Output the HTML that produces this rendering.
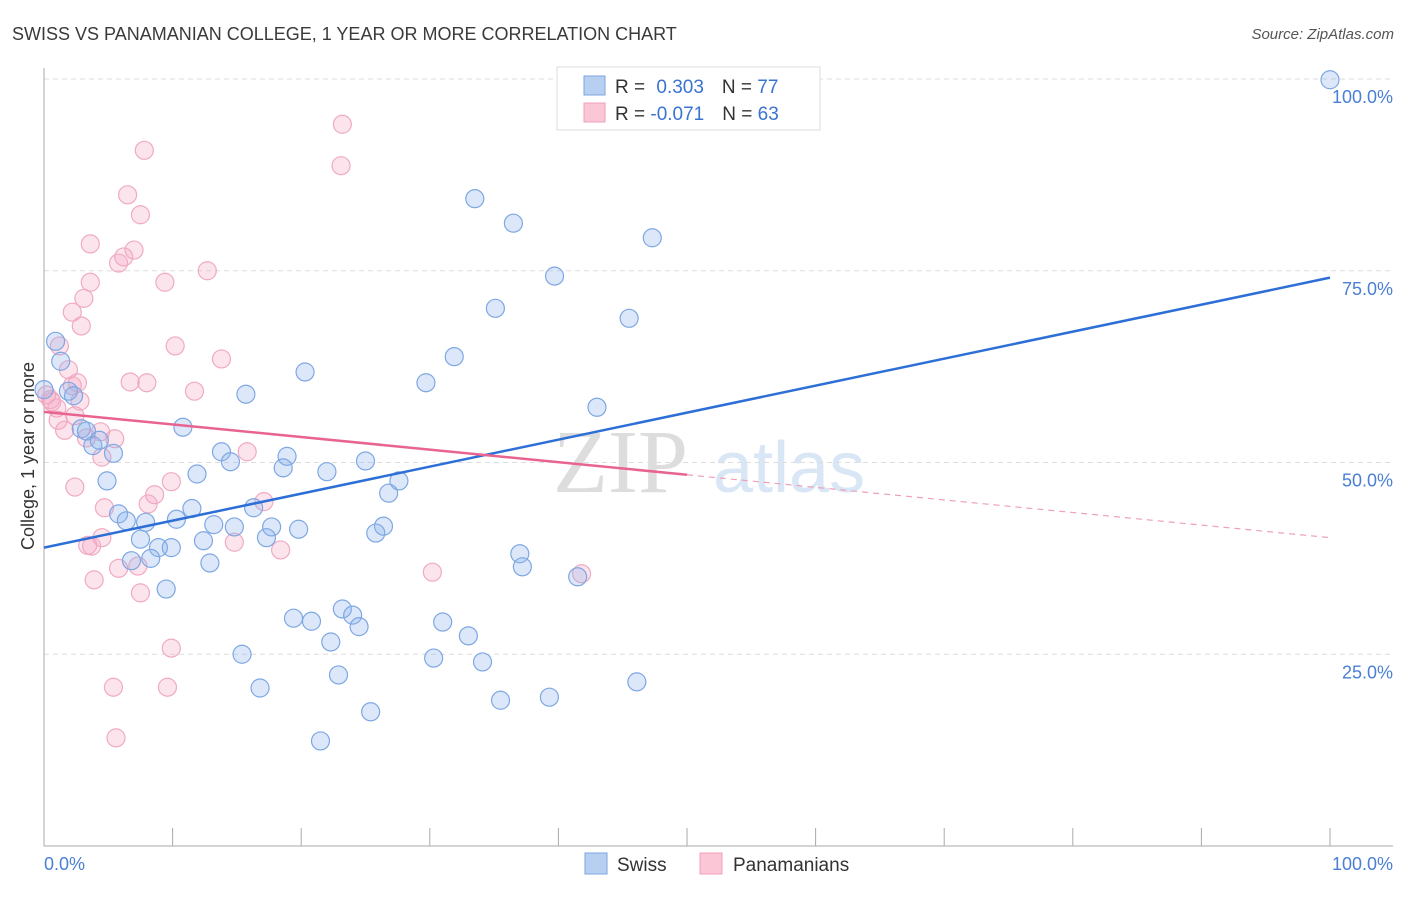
<!DOCTYPE html>
<html><head><meta charset="utf-8"><style>
body{margin:0;background:#fff;font-family:"Liberation Sans",sans-serif}
</style></head><body>
<svg id="c" width="1406" height="892" xmlns="http://www.w3.org/2000/svg">
<text x="12" y="40" font-size="18" fill="#3a3a3a">SWISS VS PANAMANIAN COLLEGE, 1 YEAR OR MORE CORRELATION CHART</text>
<text x="1394" y="39" font-size="15" fill="#555" font-style="italic" text-anchor="end">Source: ZipAtlas.com</text>
<g><text x="553" y="492" font-size="90" fill="#ddd" font-family="Liberation Serif,serif">ZIP</text><text x="713" y="492" font-size="72" fill="#d9e6f6">atlas</text></g>
<g id="grid"></g><g id="pts"></g><g id="lines"></g>
<text transform="translate(34,456) rotate(-90)" font-size="18" fill="#333" text-anchor="middle">College, 1 year or more</text>
<text x="44" y="870" font-size="18" fill="#4a7fd4">0.0%</text>
<text x="1393" y="870" font-size="18" fill="#4a7fd4" text-anchor="end">100.0%</text>
<g>
<rect x="557" y="67" width="263" height="63" fill="#fff" stroke="#ddd"/>
<rect x="584" y="76" width="21" height="19" fill="#b7d0f2" stroke="#7ea6e0"/>
<rect x="584" y="103" width="21" height="19" fill="#fbc6d5" stroke="#f2a0ba"/>
<text x="615" y="93" font-size="19" fill="#333">R = <tspan fill="#3a73d0" dx="6">0.303</tspan><tspan dx="18" fill="#333">N = </tspan><tspan fill="#3a73d0">77</tspan></text>
<text x="615" y="120" font-size="19" fill="#333">R = <tspan fill="#3a73d0">-0.071</tspan><tspan dx="18" fill="#333">N = </tspan><tspan fill="#3a73d0">63</tspan></text>
</g>
<g>
<rect x="585" y="853" width="22" height="21" fill="#b7d0f2" stroke="#7ea6e0"/>
<text x="617" y="871" font-size="19" fill="#333">Swiss</text>
<rect x="700" y="853" width="22" height="21" fill="#fbc6d5" stroke="#f2a0ba"/>
<text x="733" y="871" font-size="19" fill="#333">Panamanians</text>
</g>
</svg>
<script>
const yTicks=[25,50,75,100];
const yTickLabels=["25.0%","50.0%","75.0%","100.0%"];
const swissX=[100,33.5,36.5,47.3,39.7,35.1,45.5,0.9,1.3,31.9,20.3,29.7,1.9,2.3,15.7,43.0,10.8,2.9,3.3,3.8,4.3,5.4,13.8,14.5,18.9,18.6,25.0,22.0,11.9,4.9,27.6,26.8,11.5,16.3,5.8,6.4,7.9,10.3,13.2,14.8,17.7,19.8,26.4,25.8,7.5,12.4,17.3,8.9,9.9,6.8,8.3,12.9,37.0,37.2,41.5,9.5,19.4,20.8,23.2,24.0,24.5,31.0,33.0,22.3,15.4,30.3,34.1,22.9,46.1,16.8,39.3,35.5,25.4,21.5,0,49.9,51.4];
const swissY=[99.9,84.4,81.2,79.3,74.3,70.1,68.8,65.8,63.2,63.8,61.8,60.4,59.3,58.7,58.9,57.2,54.6,54.4,54.1,52.2,52.9,51.2,51.4,50.1,50.8,49.3,50.2,48.8,48.5,47.6,47.6,46.0,44.0,44.1,43.3,42.4,42.2,42.6,41.9,41.6,41.6,41.3,41.7,40.8,40.0,39.8,40.2,38.9,38.9,37.2,37.5,36.9,38.1,36.4,35.1,33.5,29.7,29.3,30.9,30.1,28.6,29.2,27.4,26.6,25.0,24.5,24.0,22.3,21.4,20.6,19.4,19.0,17.5,13.7,59.5,99.9,99.9];
const panX=[23.2,7.8,23.1,6.5,7.5,3.6,7.0,6.2,5.8,12.7,3.6,9.4,3.1,2.2,2.9,10.2,1.2,13.8,1.9,6.7,8.0,2.6,11.7,2.2,2.8,0.2,0.6,1.0,2.4,1.1,1.6,4.4,5.5,3.3,4.5,15.8,2.4,9.9,8.6,8.1,17.1,4.7,4.5,3.4,3.7,14.8,18.4,5.8,7.3,30.2,41.8,3.9,7.5,9.9,5.4,9.6,5.6,0.5];
const panY=[94.1,90.7,88.7,84.9,82.3,78.5,77.7,76.8,76.0,75.0,73.5,73.5,71.4,69.6,67.8,65.2,65.2,63.5,62.1,60.5,60.4,60.4,59.3,60.0,58.0,58.8,57.9,57.1,56.1,55.5,54.2,54.0,53.1,53.2,50.7,51.4,46.8,47.5,45.8,44.6,44.9,44.1,40.2,39.2,39.1,39.6,38.6,36.2,36.5,35.7,35.5,34.7,33.0,25.8,20.7,20.7,14.1,58.2];
const swissTrend=[38.9,74.1];
const panTrend=[56.6,40.2];
const X=v=>44+v*12.86, Y=v=>846-v*7.67;
const NS="http://www.w3.org/2000/svg";
function mk(t,a,p){const e=document.createElementNS(NS,t);for(const k in a)e.setAttribute(k,a[k]);p.appendChild(e);return e;}
const g=document.getElementById('grid');
yTicks.forEach((t,i)=>{
 const l=mk('line',{x1:44,x2:1393,y1:Y(t),y2:Y(t),stroke:'#ddd','stroke-dasharray':'5,4'},g);
 
 
 const tx=mk('text',{x:1393,y:Y(t)+24,'font-size':18,fill:'#4a7fd4','text-anchor':'end'},g);
 tx.textContent=yTickLabels[i];
 
 
});
mk('line',{x1:44,x2:44,y1:68,y2:846,stroke:'#aaa'},g);
mk('line',{x1:44,x2:1393,y1:846,y2:846,stroke:'#aaa'},g);
for(let i=1;i<=10;i++){const t=mk('line',{x1:X(i*10),x2:X(i*10),y1:828,y2:846,stroke:'#aaa'},g);
 
 }
const p=document.getElementById('pts');
panX.forEach((x,i)=>{const c=mk('circle',{cx:X(x),cy:Y(panY[i]),r:9,fill:'rgba(245,165,195,0.3)',stroke:'#f0aac2','stroke-width':1.2},p);
 
 });
swissX.forEach((x,i)=>{const c=mk('circle',{cx:X(x),cy:Y(swissY[i]),r:9,fill:'rgba(140,180,235,0.3)',stroke:'#7ea7e3','stroke-width':1.2},p);
 
 });
const L=document.getElementById('lines');
const b=mk('line',{x1:X(0),y1:Y(swissTrend[0]),x2:X(100),y2:Y(swissTrend[1]),stroke:'#2d6fd6','stroke-width':2.5},L);


const pm=(x)=>panTrend[0]+(panTrend[1]-panTrend[0])*x/100;
const a=mk('line',{x1:X(0),y1:Y(pm(0)),x2:X(50),y2:Y(pm(50)),stroke:'#e8648f','stroke-width':2.5},L);


const d=mk('line',{x1:X(50),y1:Y(pm(50)),x2:X(100),y2:Y(pm(100)),stroke:'#eea0b8','stroke-width':1.2,'stroke-dasharray':'6,5'},L);


</script>
</body></html>
